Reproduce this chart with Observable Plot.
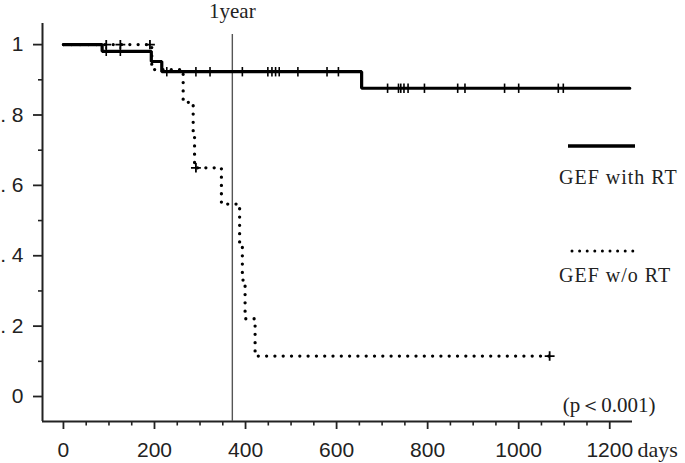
<!DOCTYPE html>
<html>
<head>
<meta charset="utf-8">
<script src="https://cdn.jsdelivr.net/npm/d3@7"></script>
<script src="https://cdn.jsdelivr.net/npm/@observablehq/plot@0.6"></script>
<style>
  html, body { margin: 0; padding: 0; background: #fff; }
  #wrap { position: relative; width: 685px; height: 463px; }
  #legend { position: absolute; left: 0; top: 0; }
  #wrap g[aria-label="x-axis tick label"], #wrap g[aria-label="y-axis tick label"] {
    font-size: 21px; font-family: 'Liberation Sans', Arial, sans-serif;
  }
</style>
</head>
<body>
<div id="wrap"></div>
<script>
// ---- data ----
const withRTTimes    = [0, 85, 193, 216, 655, 1244];
const withRTSurv     = [1, 0.981, 0.952, 0.923, 0.876, 0.876];
const withRTCensorT  = [94, 125, 227, 291, 322, 393, 449, 458, 466, 474, 515, 579, 604,
                        712, 736, 741, 748, 757, 793, 866, 882, 969, 1000, 1087, 1098];
const withRTCensorS  = [0.981, 0.981, 0.923, 0.923, 0.923, 0.923, 0.923, 0.923, 0.923, 0.923, 0.923, 0.923, 0.923,
                        0.876, 0.876, 0.876, 0.876, 0.876, 0.876, 0.876, 0.876, 0.876, 0.876, 0.876, 0.876];

const woRTTimes      = [0, 194, 263, 285, 288, 347, 387, 393, 399, 421, 1068];
const woRTSurv       = [1, 0.929, 0.836, 0.743, 0.650, 0.547, 0.437, 0.331, 0.221, 0.115, 0.115];
const woRTCensorT    = [94, 125, 190, 291, 1068];
const woRTCensorS    = [1, 1, 1, 0.650, 0.115];

const oneYear        = 371;
const oneYearLabel   = "1year";
const xLabel         = "days";
const pLabel         = "(p＜0.001)";
const seriesNames    = ["GEF with RT", "GEF w/o RT"];

const xDomain        = [-46, 1250];
const yDomain        = [-0.071, 1.06];
const xTicks         = [0, 200, 400, 600, 800, 1000, 1200];
const xMinorTicks    = [50, 100, 150, 250, 300, 350, 450, 500, 550, 650, 700, 750, 850, 900, 950, 1050, 1100, 1150];
const yTicks         = [0, 0.2, 0.4, 0.6, 0.8, 1];
const yTickLabels    = ["0", ". 2", ". 4", ". 6", ". 8", "1"];
const yMinorTicks    = [0.1, 0.3, 0.5, 0.7, 0.9];

// ---- tables ----
const withRT = withRTTimes.map((t, i) => ({t, s: withRTSurv[i]}));
const woRT = woRTTimes.map((t, i) => ({t, s: woRTSurv[i]}));
const withRTCens = withRTCensorT.map((t, i) => ({t, s: withRTCensorS[i]}));
const woRTCens = woRTCensorT.map((t, i) => ({t, s: woRTCensorS[i]}));

const vtick = {draw(ctx, size) { const r = Math.sqrt(size / Math.PI); ctx.moveTo(0, -r); ctx.lineTo(0, r); }};
const plus = {draw(ctx, size) { const r = Math.sqrt(size / Math.PI); ctx.moveTo(0, -r); ctx.lineTo(0, r); ctx.moveTo(-r * 1.05, 0); ctx.lineTo(r * 1.05, 0); }};

const serif = "'Liberation Serif', 'Times New Roman', serif";
const sans = "'Liberation Sans', Arial, sans-serif";

const chart = Plot.plot({
  width: 685,
  height: 463,
  marginLeft: 42,
  marginRight: 53,
  marginTop: 23,
  marginBottom: 42,
  style: {fontFamily: sans, fontSize: "20px", color: "#222", background: "#fff", overflow: "visible"},
  x: {domain: xDomain, label: null},
  y: {domain: yDomain, label: null},
  marks: [
    // minor ticks
    Plot.axisX({ticks: xMinorTicks, tickSize: 4.5, tickFormat: () => "", strokeWidth: 1.6, stroke: "#222", label: null}),
    Plot.axisY({ticks: yMinorTicks, tickSize: 4, tickFormat: () => "", strokeWidth: 1.6, stroke: "#222", label: null}),
    // major ticks + labels
    Plot.axisX({ticks: xTicks, tickSize: 8, tickPadding: 13, strokeWidth: 1.8, stroke: "#222", label: null,
                tickFormat: d => String(d), fontSize: 21, fontFamily: sans, fill: "#222"}),
    Plot.axisY({ticks: yTicks, tickSize: 9, tickPadding: 10, strokeWidth: 1.8, stroke: "#222", label: null,
                tickFormat: d => yTickLabels[yTicks.indexOf(d)], fontSize: 21, fontFamily: sans, fill: "#222"}),
    // axis lines
    Plot.ruleY([yDomain[0]], {stroke: "#222", strokeWidth: 2}),
    Plot.ruleX([xDomain[0]], {stroke: "#222", strokeWidth: 2}),
    // 1 year line
    Plot.ruleX([oneYear], {insetTop: 11, stroke: "#555", strokeWidth: 1.4}),
    Plot.text([oneYearLabel], {x: oneYear, frameAnchor: "top", lineAnchor: "bottom", dy: -6,
                               fontFamily: serif, fontSize: 21, fill: "#222", letterSpacing: "1px"}),
    // survival curves
    Plot.line(woRT, {x: "t", y: "s", curve: "step-after", stroke: "#000", strokeWidth: 3.3,
                     strokeDasharray: "0 8.3", strokeLinecap: "round"}),
    Plot.line(withRT, {x: "t", y: "s", curve: "step-after", stroke: "#000", strokeWidth: 3.2,
                       strokeLinejoin: "miter", strokeLinecap: "round"}),
    // censor marks
    Plot.dot(withRTCens, {x: "t", y: "s", symbol: vtick, r: 4.7, stroke: "#000", strokeWidth: 1.6, fill: "none"}),
    Plot.dot(woRTCens, {x: "t", y: "s", symbol: plus, r: 4.7, stroke: "#000", strokeWidth: 1.8, fill: "none"}),
    // axis title and p-value
    Plot.text([xLabel], {frameAnchor: "bottom-right", textAnchor: "start", lineAnchor: "bottom",
                         dx: 5, dy: 35, fontFamily: serif, fontSize: 22, fill: "#222", letterSpacing: "1px"}),
    Plot.text([pLabel], {frameAnchor: "bottom-right", textAnchor: "end", lineAnchor: "bottom",
                         dx: 23, dy: -10, fontFamily: serif, fontSize: 21, fill: "#222"})
  ]
});
document.getElementById("wrap").appendChild(chart);

// ---- legend overlay ----
const lg = d3.select("#wrap").append("svg").attr("id", "legend").attr("width", 685).attr("height", 463);
const legendItems = [
  {name: seriesNames[0], dash: null, ly: 146, ty: 184},
  {name: seriesNames[1], dash: "0 7.6", ly: 251, ty: 282}
];
legendItems.forEach(d => {
  lg.append("line").attr("x1", d.dash ? 572 : 568).attr("x2", 635).attr("y1", d.ly).attr("y2", d.ly)
    .attr("stroke", "#000").attr("stroke-width", d.dash ? 3 : 3.5)
    .attr("stroke-dasharray", d.dash).attr("stroke-linecap", d.dash ? "round" : "butt");
  lg.append("text").attr("x", 559).attr("y", d.ty).text(d.name)
    .attr("font-family", serif).attr("font-size", 20).attr("fill", "#222").attr("letter-spacing", "1px");
});
</script>
</body>
</html>
